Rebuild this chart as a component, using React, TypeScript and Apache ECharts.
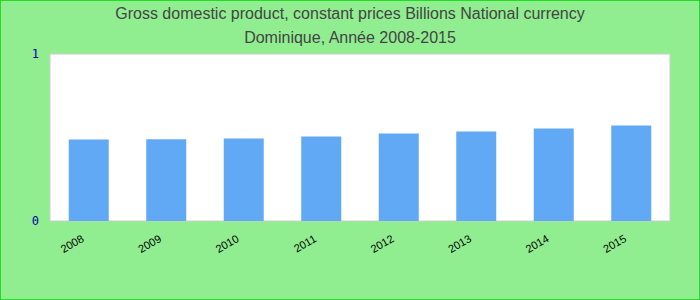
import React, { useEffect, useRef } from "react";
import * as echarts from "echarts";

const titleLines = [
  "Gross domestic product, constant prices Billions National currency",
  "Dominique, Année 2008-2015",
];
const years = ["2008", "2009", "2010", "2011", "2012", "2013", "2014", "2015"];
const values = [0.488, 0.489, 0.494, 0.506, 0.524, 0.536, 0.554, 0.572];
const yTicks = [0, 1];

export default function App() {
  const ref = useRef<HTMLDivElement>(null);
  useEffect(() => {
    document.body.style.margin = "0";
    const chart = echarts.init(ref.current!, null, { renderer: "svg" });
    chart.setOption({
      animation: false,
      backgroundColor: "#90EE90",
      title: {
        text: titleLines.join("\n"),
        left: "center",
        top: 0,
        padding: [0, 5],
        textStyle: {
          fontFamily: "Liberation Sans, Arial, sans-serif",
          fontSize: 16,
          fontWeight: "normal",
          color: "#444444",
          lineHeight: 24,
        },
      },
      grid: {
        left: 49,
        right: 29,
        top: 53,
        bottom: 78,
        show: true,
        backgroundColor: "#ffffff",
        borderColor: "#cccccc",
        borderWidth: 1,
      },
      xAxis: {
        type: "category",
        data: years,
        axisLine: { show: false },
        axisTick: { show: false },
        axisLabel: {
          rotate: 30,
          margin: 13,
          padding: [0, 7, 0, 0],
          color: "#000000",
          fontSize: 11,
          fontFamily: "Liberation Sans, Arial, sans-serif",
          interval: 0,
        },
      },
      yAxis: {
        type: "value",
        min: yTicks[0],
        max: yTicks[yTicks.length - 1],
        interval: 1,
        splitLine: { show: false },
        axisLine: { show: false },
        axisTick: { show: false },
        axisLabel: {
          color: "#0000aa",
          fontSize: 12,
          fontFamily: "DejaVu Sans Mono, monospace",
          margin: 11,
        },
      },
      series: [
        {
          type: "bar",
          data: values,
          barWidth: 40,
          itemStyle: { color: "#62a9f5" },
        },
      ],
    });
    return () => chart.dispose();
  }, []);
  return (
    <div
      style={{
        width: 700,
        height: 300,
        boxSizing: "border-box",
        border: "1px solid #22dd22",
        background: "#90EE90",
      }}
    >
      <div ref={ref} style={{ width: 698, height: 298 }} />
    </div>
  );
}
